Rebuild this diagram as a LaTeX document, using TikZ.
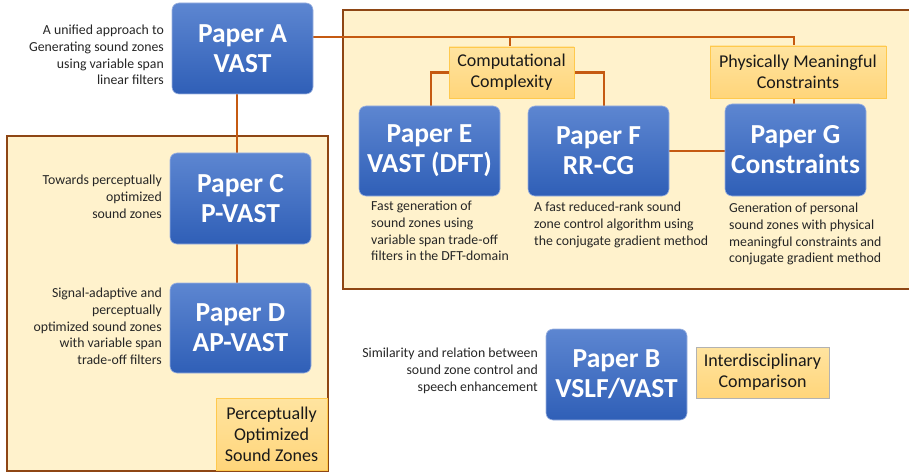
\documentclass[tikz,border=0pt]{standalone}
\usepackage{fontspec}
\setmainfont{Carlito}
\usetikzlibrary{calc}
\pgfdeclarelayer{bglayer}
\pgfdeclarelayer{midlayer}
\pgfsetlayers{bglayer,midlayer,main}
\definecolor{bluetop}{HTML}{5D86D1}
\definecolor{bluebot}{HTML}{2F5FB7}
\definecolor{blueedge}{HTML}{9DB3E0}
\definecolor{linkc}{HTML}{C55A11}
\definecolor{framec}{HTML}{8E4614}
\definecolor{areafill}{HTML}{FFF2CC}
\definecolor{tagtop}{HTML}{FFE4A0}
\definecolor{tagbot}{HTML}{FFD57A}
\definecolor{tagedge}{HTML}{FFC94D}
\begin{document}
\begin{tikzpicture}[x=1pt,y=-1pt,
  paperbox/.style={rounded corners=7pt, top color=bluetop, bottom color=bluebot,
     draw=blueedge, line width=0.6pt, text=white, align=center,
     font=\fontsize{27.5}{30}\selectfont\bfseries, inner sep=0pt},
  tagbox/.style={top color=tagtop, bottom color=tagbot, draw=tagedge, line width=0.8pt,
     align=center, font=\fontsize{18}{21}\selectfont, inner sep=0pt, text=black!90},
  desc/.style={font=\fontsize{13.8}{16.7}\selectfont, inner sep=0pt, text=black!85},
  area/.style={draw=framec, fill=areafill, line width=2.6pt},
  link/.style={draw=linkc, line width=2.4pt}
]
\useasboundingbox (0,0) rectangle (909,473);

% paper boxes
\node[paperbox, minimum width=141pt, minimum height=91pt] (paperA) at (242.5,48.5) {Paper A\\VAST};
\node[paperbox, minimum width=141pt, minimum height=91pt] (paperC) at (240.5,198.5) {Paper C\\P-VAST};
\node[paperbox, minimum width=141pt, minimum height=90pt] (paperD) at (240.5,328) {Paper D\\AP-VAST};
\node[paperbox, minimum width=141pt, minimum height=90pt] (paperE) at (429.5,151) {Paper E\\VAST (DFT)};
\node[paperbox, minimum width=141pt, minimum height=90pt] (paperF) at (598.5,151) {Paper F\\RR-CG};
\node[paperbox, minimum width=141pt, minimum height=92pt] (paperG) at (795.5,150) {Paper G\\Constraints};
\node[paperbox, minimum width=141pt, minimum height=91pt] (paperB) at (616.5,374.5) {Paper B\\VSLF/VAST};

% tag boxes
\node[tagbox, minimum width=125pt, minimum height=51pt] (comp) at (511.5,72.5) {Computational\\Complexity};
\node[tagbox, minimum width=176pt, minimum height=52pt] (phys) at (798,72) {Physically Meaningful\\Constraints};
\node[tagbox, minimum width=111pt, minimum height=72pt] (perc) at (271.5,434) {Perceptually\\Optimized\\Sound Zones};
\node[tagbox, minimum width=133pt, minimum height=51pt, draw=black!30] (inter) at (762.5,372.5) {Interdisciplinary\\Comparison};

% descriptions
\node[desc, align=right, anchor=north east] (dA) at (164,25) {A unified approach to\\Generating sound zones\\using variable span\\linear filters};
\node[desc, align=right, anchor=north east] (dC) at (162,175) {Towards perceptually\\optimized\\sound zones};
\node[desc, align=right, anchor=north east] (dD) at (162,288) {Signal-adaptive and\ \\perceptually\\optimized sound zones\\with variable span\\trade-off filters};
\node[desc, align=left, anchor=north west] (dE) at (371,201) {Fast generation of\\sound zones using\\variable span trade-off\\filters in the DFT-domain};
\node[desc, align=left, anchor=north west] (dF) at (534,202) {A fast reduced-rank sound\\zone control algorithm using\\the conjugate gradient method};
\node[desc, align=left, anchor=north west] (dG) at (729,203) {Generation of personal\\sound zones with physical\\meaningful constraints and\\conjugate gradient method};
\node[desc, align=right, anchor=north east] (dB) at (538,348) {Similarity and relation between\\sound zone control and\\speech enhancement};

% background areas
\begin{pgfonlayer}{bglayer}
  \fill[white] (0,0) rectangle (909,473);
  \filldraw[area] (7,136) rectangle (328,471);
  \filldraw[area] (343,10) rectangle (920,289);
\end{pgfonlayer}

% connectors
\coordinate (topL) at (313,37);
\coordinate (topR) at (794,37);
\coordinate (tick) at (510,37);
\coordinate (xac) at (237,0);
\begin{pgfonlayer}{midlayer}
  \draw[link] (topL) -- (topR) -- (topR |- phys.north);
  \draw[link] (tick) -- (tick |- comp.north);
  \draw[link] (comp.west) -| ($(paperE.north)+(1.5,0)$);
  \draw[link] (comp.east) -| ($(paperF.north)+(5.5,0)$);
  \draw[link] (topR |- phys.south) -- (topR |- paperG.north);
  \draw[link] (paperF.east) -- (paperF.east -| paperG.west);
  \draw[link] (paperA.south -| xac) -- (paperC.north -| xac);
  \draw[link] (paperC.south -| xac) -- (paperD.north -| xac);
\end{pgfonlayer}
\end{tikzpicture}
\end{document}
